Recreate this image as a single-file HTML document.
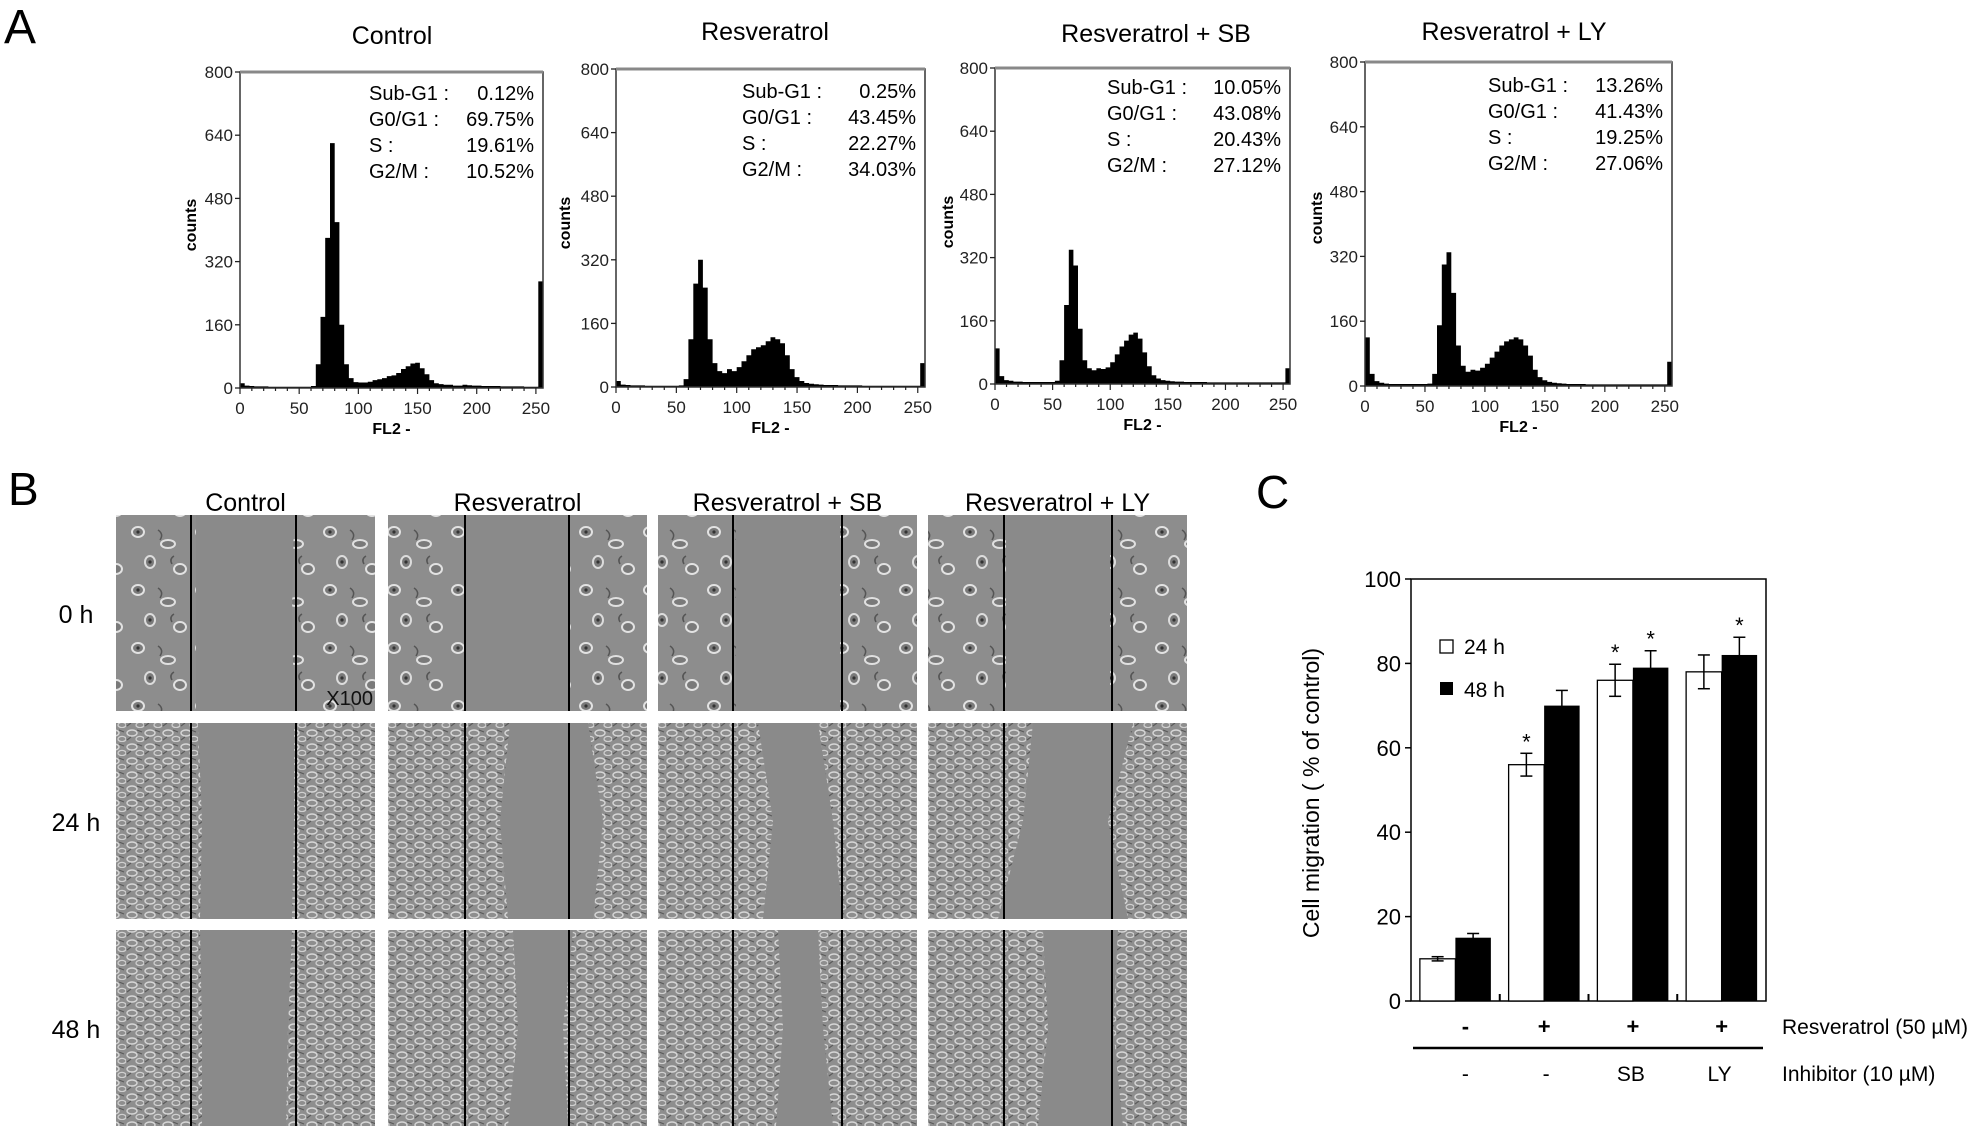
<!DOCTYPE html>
<html><head><meta charset="utf-8"><style>
html,body{margin:0;padding:0;background:#fff;}
svg{display:block;font-family:"Liberation Sans",Arial,sans-serif;}
</style></head><body>
<svg id="fig" width="1988" height="1136" viewBox="0 0 1988 1136" xmlns="http://www.w3.org/2000/svg">
<defs>
<pattern id="dense" width="18" height="14" patternUnits="userSpaceOnUse">
<rect width="18" height="14" fill="#8e8e8e"/>
<ellipse cx="6" cy="5" rx="5" ry="3" fill="none" stroke="#d6d6d6" stroke-width="1.4"/>
<ellipse cx="14" cy="11" rx="4" ry="2.6" fill="none" stroke="#cfcfcf" stroke-width="1.3"/>
<path d="M1 12 L5 9 M11 2 L16 4" stroke="#5a5a5a" stroke-width="1.2"/>
</pattern>
<pattern id="sparse" width="64" height="58" patternUnits="userSpaceOnUse">
<rect width="64" height="58" fill="#8d8d8d"/>
<ellipse cx="10" cy="10" rx="6" ry="5" fill="#7a7a7a" stroke="#e2e2e2" stroke-width="2"/>
<circle cx="10" cy="10" r="1.6" fill="#333"/>
<ellipse cx="40" cy="22" rx="7" ry="4" fill="#7a7a7a" stroke="#e0e0e0" stroke-width="2"/>
<ellipse cx="22" cy="40" rx="5" ry="6" fill="#7a7a7a" stroke="#dcdcdc" stroke-width="2"/>
<circle cx="22" cy="40" r="1.6" fill="#333"/>
<ellipse cx="52" cy="47" rx="6" ry="5" fill="#7a7a7a" stroke="#e2e2e2" stroke-width="2"/>
<path d="M30 8 q6 4 2 10 M46 34 q-5 3 -2 8" stroke="#555" stroke-width="1.5" fill="none"/>
</pattern>
</defs>
<g id="panelA"></g>
<g id="panelB"></g>
<g id="panelC"></g>
</svg>
<script>
// ---------- Panel A data ----------
const histYTicks=[0,160,320,480,640,800];
const histXTicks=[0,50,100,150,200,250];
const histTitles=['Control','Resveratrol','Resveratrol + SB','Resveratrol + LY'];
const statLabels=['Sub-G1 :','G0/G1 :','S :','G2/M :'];
const statsControl=['0.12%','69.75%','19.61%','10.52%'];
const statsResv=['0.25%','43.45%','22.27%','34.03%'];
const statsSB=['10.05%','43.08%','20.43%','27.12%'];
const statsLY=['13.26%','41.43%','19.25%','27.06%'];
// counts per 4-channel bin (0..252)
const countsControl=[12,6,5,4,4,4,3,3,3,3,3,3,3,3,3,5,60,180,380,620,420,160,60,25,15,14,14,16,20,22,25,30,32,38,48,55,62,64,50,35,20,12,10,8,8,6,6,8,7,6,6,5,5,5,5,4,4,4,4,4,3,3,3,270];
const countsResv=[15,6,5,4,4,4,3,3,3,3,3,3,3,4,20,120,260,320,250,120,60,40,35,45,40,50,65,80,95,100,105,115,125,120,110,80,45,25,15,10,8,7,6,5,5,5,4,4,4,4,4,3,3,3,3,3,3,3,3,3,3,3,3,60];
const countsSB=[90,20,10,8,6,6,5,5,5,5,5,5,5,8,60,200,340,300,140,60,40,35,40,38,42,55,75,95,110,125,130,115,80,45,22,14,10,8,7,6,6,5,5,5,5,5,4,4,4,4,4,4,4,4,4,4,4,4,4,4,4,4,4,40];
const countsLY=[120,30,12,8,6,5,5,5,5,5,5,5,5,6,30,150,300,330,230,100,50,35,40,38,45,55,70,85,100,110,115,120,115,100,75,40,22,14,10,8,7,6,5,5,5,5,4,4,4,4,4,4,4,4,4,4,4,4,4,4,4,4,4,60];
// ---------- Panel C data ----------
const barCategories=['control','resveratrol','resveratrol-sb','resveratrol-ly'];
const values24=[10,56,76,78];
const values48=[15,70,79,82];
const err24=[0.5,2.7,3.8,4];
const err48=[1,3.6,4,4.2];
const star24=[false,true,true,false];
const star48=[false,false,true,true];
const barYTicks=[0,20,40,60,80,100];
const resvLabels=['-','+','+','+'];
const inhibLabels=['-','-','SB','LY'];

const NS='http://www.w3.org/2000/svg';
function mk(parent,tag,attrs,text){
  const e=document.createElementNS(NS,tag);
  for(const k in attrs)e.setAttribute(k,attrs[k]);
  if(text!==undefined)e.textContent=text;
  parent.appendChild(e);return e;
}
let el;
// ===== Panel A =====
const A=document.getElementById('panelA');
el=mk(A,'text',{x:4,y:43,'font-size':48},'A');


const hists=[
 {x0:240,y0:72,x1:543,y1:388,tx:392,ty:44,sx:369,sy:100,cx:190,cy:225,counts:countsControl,stats:statsControl},
 {x0:616,y0:69,x1:925,y1:387,tx:765,ty:40,sx:742,sy:98,cx:564,cy:223,counts:countsResv,stats:statsResv},
 {x0:995,y0:68,x1:1290,y1:384,tx:1156,ty:42,sx:1107,sy:94,cx:947,cy:222,counts:countsSB,stats:statsSB},
 {x0:1365,y0:62,x1:1672,y1:386,tx:1514,ty:40,sx:1488,sy:92,cx:1316,cy:218,counts:countsLY,stats:statsLY}
];
const statSets=[statsControl,statsResv,statsSB,statsLY];
hists.forEach((h,hi)=>{
  const g=mk(A,'g',{});
  
  
  const xs=c=>h.x0+c/256*(h.x1-h.x0);
  const ys=v=>h.y1-Math.min(v,800)/800*(h.y1-h.y0);
  el=mk(g,'text',{x:h.tx,y:h.ty,'font-size':25,'text-anchor':'middle'},histTitles[hi]);
  
  
  // histogram area
  const bw=256/h.counts.length;
  let d='M'+xs(0)+' '+ys(0);
  h.counts.forEach((v,i)=>{d+=' L'+xs(i*bw).toFixed(1)+' '+ys(v).toFixed(1)+' L'+xs((i+1)*bw).toFixed(1)+' '+ys(v).toFixed(1);});
  d+=' L'+xs(256)+' '+ys(0)+' Z';
  el=mk(g,'path',{d:d,fill:'#000'});
  
  
  // box
  el=mk(g,'rect',{x:h.x0,y:h.y0,width:h.x1-h.x0,height:h.y1-h.y0,fill:'none',stroke:'#333','stroke-width':1.5});
  
  
  mk(g,'line',{x1:h.x0,y1:h.y0,x2:h.x1,y2:h.y0,stroke:'#888','stroke-width':3});
  // y ticks
  histYTicks.forEach(t=>{
    mk(g,'line',{x1:h.x0-5,y1:ys(t),x2:h.x0,y2:ys(t),stroke:'#222','stroke-width':1.3});
    el=mk(g,'text',{x:h.x0-7,y:ys(t)+6,'font-size':17,'text-anchor':'end',fill:'#222'},String(t));
    
    
  });
  // x ticks
  for(let c=0;c<=250;c+=10)mk(g,'line',{x1:xs(c),y1:h.y1,x2:xs(c),y2:h.y1+(c%50===0?6:3),stroke:'#222','stroke-width':1.2});
  histXTicks.forEach(t=>{
    el=mk(g,'text',{x:xs(t),y:h.y1+26,'font-size':17,'text-anchor':'middle',fill:'#222'},String(t));
    
    
  });
  el=mk(g,'text',{x:(h.x0+h.x1)/2,y:h.y1+46,'font-size':16,'font-weight':'bold','text-anchor':'middle'},'FL2 -');
  
  
  el=mk(g,'text',{x:0,y:0,'font-size':16,'font-weight':'bold','text-anchor':'middle',transform:'translate('+(h.cx+6)+','+h.cy+') rotate(-90)'},'counts');
  
  
  statLabels.forEach((lab,i)=>{
    el=mk(g,'text',{x:h.sx,y:h.sy+i*26,'font-size':20},lab);
    
    
    el=mk(g,'text',{x:h.x1-9,y:h.sy+i*26,'font-size':20,'text-anchor':'end'},statSets[hi][i]);
    
    
  });
});
// ===== Panel B =====
const B=document.getElementById('panelB');
el=mk(B,'text',{x:8,y:505,'font-size':46},'B');


const colX=[116,388,658,928], colW=259;
const rowY=[515,723,930], rowH=196;
const lineOff=[[75,180],[77,181],[75,184],[76,184]];
const colTitles=['Control','Resveratrol','Resveratrol + SB','Resveratrol + LY'];
const rowLabels=['0 h','24 h','48 h'];
// gap shapes: [topLeft, topRight, midLeft, midRight, botLeft, botRight] in px within panel
const gaps=[
 [[80,178,80,176,80,178],[82,178,86,178,84,176],[84,176,86,172,86,170]],
 [[78,180,78,180,78,180],[122,200,112,215,120,205],[125,185,130,175,120,180]],
 [[78,182,78,182,78,182],[100,160,115,175,105,185],[120,160,125,165,118,175]],
 [[78,182,78,182,78,182],[105,205,95,180,70,200],[115,190,120,185,110,195]]
];
colTitles.forEach((t,ci)=>{
  el=mk(B,'text',{x:colX[ci]+colW/2+(ci===0?0:0),y:511,'font-size':25,'text-anchor':'middle'},t);
  
  
});
rowLabels.forEach((t,ri)=>{
  el=mk(B,'text',{x:76,y:rowY[ri]+rowH/2+10,'font-size':25,'text-anchor':'middle'},t);
  
  
});
rowY.forEach((y,ri)=>{
  colX.forEach((x,ci)=>{
    const g=mk(B,'g',{});
    
    
    mk(g,'rect',{x:x,y:y,width:colW,height:rowH,fill:ri===0?'url(#sparse)':'url(#dense)'});
    const gp=gaps[ci][ri];
    const pts=[[gp[0],0],[gp[1],0],[gp[3],rowH/2],[gp[5],rowH],[gp[4],rowH],[gp[2],rowH/2]].map(p=>(x+p[0])+','+(y+p[1])).join(' ');
    mk(g,'polygon',{points:pts,fill:'#8a8a8a'});
    lineOff[ci].forEach(o=>mk(g,'line',{x1:x+o,y1:y,x2:x+o,y2:y+rowH,stroke:'#000','stroke-width':2}));
  });
});
el=mk(B,'text',{x:colX[0]+colW-2,y:rowY[0]+rowH-6,'font-size':20,'text-anchor':'end',fill:'#111'},'X100');


// ===== Panel C =====
const C=document.getElementById('panelC');
el=mk(C,'text',{x:1256,y:508,'font-size':46},'C');


const cx0=1411,cx1=1766,cyT=579,cyB=1001;
const yv=v=>cyB-v/100*(cyB-cyT);
const band=(cx1-cx0)/barCategories.length;
const bw2=35.5;
mk(C,'rect',{x:cx0,y:cyT,width:cx1-cx0,height:cyB-cyT,fill:'none',stroke:'#000','stroke-width':1.5});
barYTicks.forEach(t=>{
  mk(C,'line',{x1:cx0-6,y1:yv(t),x2:cx0,y2:yv(t),stroke:'#000','stroke-width':1.5});
  el=mk(C,'text',{x:cx0-10,y:yv(t)+8,'font-size':22,'text-anchor':'end'},String(t));
  
  
});
for(let i=1;i<barCategories.length;i++)mk(C,'line',{x1:cx0+i*band,y1:cyB,x2:cx0+i*band,y2:cyB-7,stroke:'#000','stroke-width':2});
el=mk(C,'text',{x:0,y:0,'font-size':23,'text-anchor':'middle',transform:'translate(1319,793) rotate(-90)'},'Cell migration ( % of control)');


barCategories.forEach((cat,i)=>{
  const c=cx0+(i+0.5)*band;
  el=mk(C,'rect',{x:c-bw2,y:yv(values24[i]),width:bw2,height:cyB-yv(values24[i]),fill:'#fff',stroke:'#000','stroke-width':1.3});
  
  
  el=mk(C,'rect',{x:c,y:yv(values48[i]),width:bw2,height:cyB-yv(values48[i]),fill:'#000'});
  
  
  [[c-bw2/2,values24[i],err24[i],star24[i]],[c+bw2/2,values48[i],err48[i],star48[i]]].forEach(q=>{
    const [ex,v,e,s]=q;
    mk(C,'line',{x1:ex,y1:yv(v+e),x2:ex,y2:yv(v-e),stroke:'#000','stroke-width':1.5});
    mk(C,'line',{x1:ex-6,y1:yv(v+e),x2:ex+6,y2:yv(v+e),stroke:'#000','stroke-width':1.5});
    mk(C,'line',{x1:ex-6,y1:yv(v-e),x2:ex+6,y2:yv(v-e),stroke:'#000','stroke-width':1.5});
    if(s){
      el=mk(C,'text',{x:ex,y:yv(v+e)-4,'font-size':22,'text-anchor':'middle'},'*');
      
      
    }
  });
  el=mk(C,'text',{x:c+(i===0?10:0),y:1034,'font-size':22,'text-anchor':'middle','font-weight':'bold'},resvLabels[i]);
  
  
  el=mk(C,'text',{x:c+(i===0?10:i===1?2:-2),y:1081,'font-size':21,'text-anchor':'middle'},inhibLabels[i]);
  
  
});
mk(C,'line',{x1:1413,y1:1048,x2:1763,y2:1048,stroke:'#000','stroke-width':2.5});
el=mk(C,'text',{x:1782,y:1034,'font-size':21},'Resveratrol (50 µM)');


el=mk(C,'text',{x:1782,y:1081,'font-size':21},'Inhibitor (10 µM)');


// legend
el=mk(C,'rect',{x:1440,y:640,width:13,height:13,fill:'#fff',stroke:'#000','stroke-width':1.3});


el=mk(C,'text',{x:1464,y:654,'font-size':21},'24 h');


el=mk(C,'rect',{x:1440,y:682,width:13,height:13,fill:'#000'});


el=mk(C,'text',{x:1464,y:697,'font-size':21},'48 h');


</script>
</body></html>
